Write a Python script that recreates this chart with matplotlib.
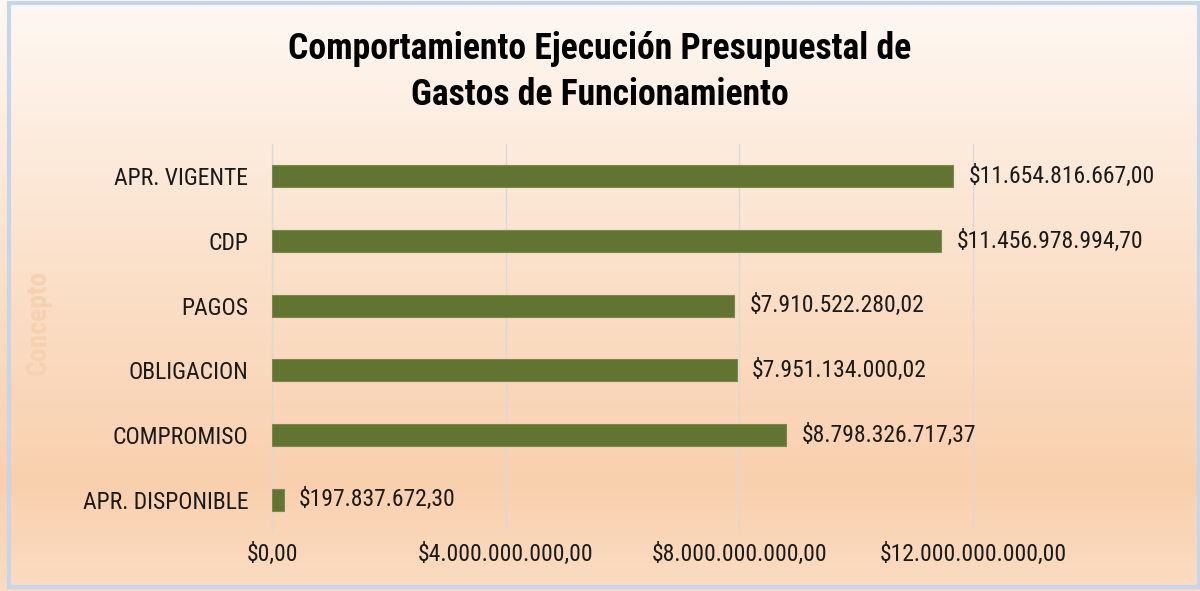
import matplotlib
matplotlib.use("Agg")
import matplotlib.pyplot as plt
import numpy as np
from matplotlib import font_manager
from matplotlib.colors import LinearSegmentedColormap
from matplotlib.ticker import FuncFormatter
from matplotlib.patches import Rectangle

categories = ["APR. VIGENTE", "CDP", "PAGOS", "OBLIGACION", "COMPROMISO", "APR. DISPONIBLE"]
values = [11654816667.00, 11456978994.70, 7910522280.02, 7951134000.02, 8798326717.37, 197837672.30]
xticks = [0, 4e9, 8e9, 12e9]
title_lines = ["Comportamiento Ejecución Presupuestal de", "Gastos de Funcionamiento"]
ylabel = "Concepto"

names = {f.name for f in font_manager.fontManager.ttflist}
fam = "Liberation Sans"
for cand in ["Liberation Sans Narrow", "Arial Narrow", "Roboto Condensed", "Archivo Narrow",
             "PT Sans Narrow", "Barlow Semi Condensed"]:
    if cand in names:
        fam = cand
        break
plt.rcParams["font.family"] = [fam, "DejaVu Sans"]


def fmt(v):
    s = f"{v:,.2f}"
    s = s.replace(",", "X").replace(".", ",").replace("X", ".")
    return "$" + s


fig = plt.figure(figsize=(12, 5.91), dpi=100)

# background gradient
bg = fig.add_axes([0, 0, 1, 1], zorder=-10)
cmap = LinearSegmentedColormap.from_list(
    "bg", [(0.0, "#fef8f3"), (0.5, "#fbdec6"), (0.82, "#f9d0ae"), (1.0, "#fbdcc2")])
grad = np.linspace(0, 1, 256).reshape(-1, 1)
bg.imshow(grad, aspect="auto", cmap=cmap, extent=[0, 1, 0, 1], origin="upper")
bg.set_xlim(0, 1)
bg.set_ylim(0, 1)
bg.axis("off")
bg.add_patch(Rectangle((9 / 1200, 4 / 591), 1190 / 1200, 584 / 591, fill=False,
                       edgecolor="#c6d5e9", linewidth=3, transform=bg.transAxes))

ax = fig.add_axes([272 / 1200, 1 - 532 / 591, (1090 - 272) / 1200, (532 - 144) / 591])
ax.set_facecolor("none")
y = np.arange(len(categories))
ax.barh(y, values, height=0.34, color="#627432", edgecolor="#7a8a4c", linewidth=0.8, zorder=3)
ax.set_ylim(len(categories) - 0.5, -0.5)
ax.set_xlim(0, 14e9)
ax.set_yticks(y)
ax.set_yticklabels(categories)
ax.set_xticks(xticks)
ax.xaxis.set_major_formatter(FuncFormatter(lambda v, p: fmt(v)))
ax.tick_params(axis="y", length=0, pad=17, labelsize=17, labelcolor="#1a1a1a")
ax.tick_params(axis="x", length=0, pad=8, labelsize=17, labelcolor="#1a1a1a")
ax.grid(axis="x", color="#d9d9d9", linewidth=1, zorder=0)
for s in ["top", "right", "bottom"]:
    ax.spines[s].set_visible(False)
ax.spines["left"].set_color("#d9d9d9")
ax.spines["left"].set_linewidth(1)

for yi, v in zip(y, values):
    ax.annotate(fmt(v), (v, yi), xytext=(11, 0), textcoords="offset points",
                va="center", ha="left", fontsize=17, color="#1a1a1a")

for line, ypx in zip(title_lines, [49, 95]):
    fig.text(0.5, 1 - ypx / 591, line, ha="center", va="center", fontsize=25.7,
             fontweight="bold", color="#000000")
fig.text(38 / 1200, 1 - 322 / 591, ylabel, rotation=90, ha="center", va="center",
         fontsize=20, fontweight="bold", color="#f7d0b0")

fig.savefig("out.png", dpi=100)
